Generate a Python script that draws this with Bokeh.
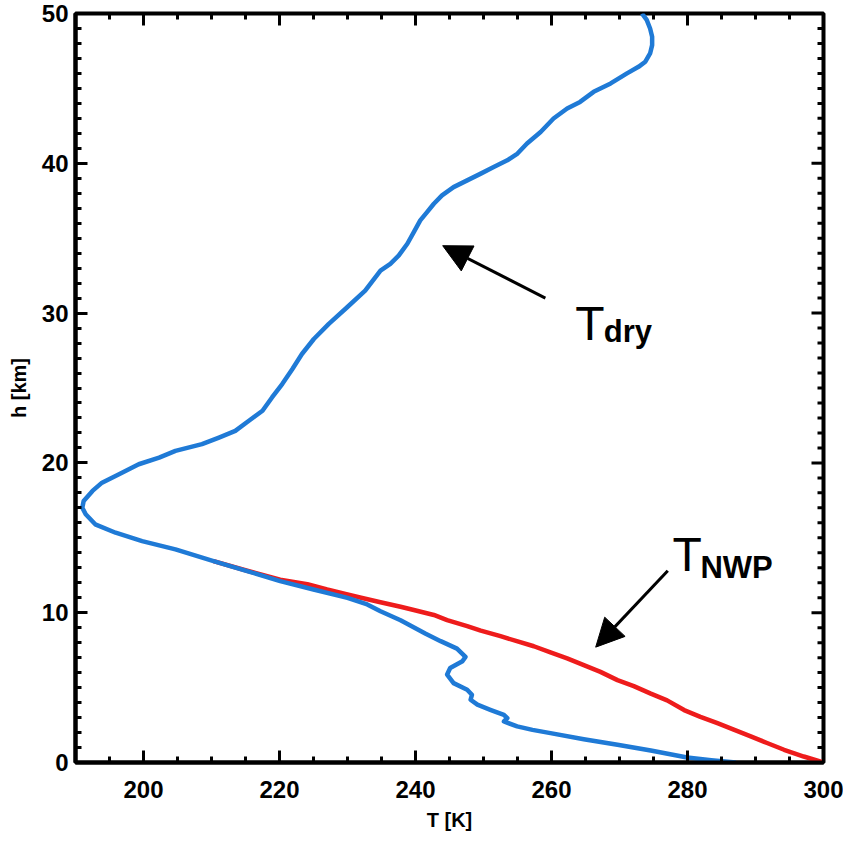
import math
from bokeh.plotting import figure
from bokeh.models import Range1d, FixedTicker, Arrow, NormalHead, ColumnDataSource
from bokeh.core.properties import value
from bokeh.embed import file_html
from bokeh.resources import INLINE

# ---- data ----
t_dry = [287.1, 283.5, 279.95, 274.6, 269.7, 264.75, 259.85, 257.2, 254.95, 253.0, 253.5,
         253.0, 251.0, 249.1, 248.1, 248.3, 247.6, 245.6, 244.65, 245.1, 246.9, 247.35,
         246.1, 243.7, 241.5, 237.8, 234.85, 232.9, 230.0, 225.0, 220.1, 215.25, 210.3,
         204.7, 199.8, 195.9, 192.9, 191.5, 191.0, 191.2, 192.5, 193.9, 196.4, 199.3,
         202.3, 204.7, 208.6, 211.1, 213.5, 215.5, 217.5, 218.9, 220.4, 221.9, 223.3,
         225.05, 227.25, 229.95, 232.6, 234.85, 236.3, 237.55, 238.8, 239.75, 240.7,
         241.7, 242.7, 243.9, 245.6, 247.6, 249.6, 251.5, 253.5, 255.0, 256.4, 258.4,
         260.3, 262.3, 264.2, 266.2, 268.7, 271.1, 272.8, 273.8, 274.5, 274.8, 274.8,
         274.5, 274.0, 273.3]
h_dry = [0.00, 0.15, 0.33, 0.80, 1.18, 1.55, 1.96, 2.18, 2.41, 2.74, 2.96,
         3.18, 3.52, 3.86, 4.19, 4.52, 4.86, 5.30, 5.87, 6.31, 6.76, 7.05,
         7.60, 8.10, 8.60, 9.50, 10.10, 10.55, 10.99, 11.55, 12.11, 12.78, 13.44,
         14.23, 14.78, 15.34, 15.90, 16.57, 17.01, 17.46, 18.13, 18.68, 19.24, 19.91,
         20.35, 20.80, 21.25, 21.69, 22.14, 22.81, 23.48, 24.37, 25.26, 26.27, 27.27,
         28.27, 29.28, 30.39, 31.50, 32.84, 33.29, 33.85, 34.63, 35.40, 36.19,
         36.74, 37.30, 37.86, 38.41, 38.86, 39.31, 39.75, 40.20, 40.65, 41.32, 42.09,
         42.99, 43.66, 44.10, 44.77, 45.33, 46.00, 46.44, 46.78, 47.33, 47.89, 48.45,
         49.00, 49.57, 50.00]

t_nwp = [300.0, 297.1, 294.2, 291.7, 289.3, 286.8, 284.4, 281.9, 279.5, 277.0, 274.6,
         272.1, 269.7, 267.2, 264.75, 262.3, 259.85, 257.4, 254.9, 252.5, 249.6, 247.6,
         244.65, 242.7, 239.75, 237.8, 234.85, 232.0, 230.0, 227.0, 224.1, 220.1, 215.25,
         210.3]
h_nwp = [0.00, 0.40, 0.85, 1.30, 1.74, 2.20, 2.63, 3.05, 3.50, 4.15, 4.60,
         5.10, 5.50, 6.05, 6.50, 6.95, 7.35, 7.76, 8.10, 8.43, 8.80, 9.10,
         9.50, 9.85, 10.18, 10.40, 10.70, 11.00, 11.22, 11.55, 11.90, 12.20, 12.80,
         13.44]

x_major = [200, 220, 240, 260, 280, 300]
x_minor = list(range(190, 301, 5))
y_major = [0, 10, 20, 30, 40, 50]
y_minor = list(range(0, 51, 1))
X0, X1, Y0, Y1 = 190, 300, 0, 50

FONT = "Liberation Sans"

p = figure(width=843, height=841, output_backend="svg", toolbar_location=None,
           x_range=Range1d(X0, X1), y_range=Range1d(Y0, Y1),
           min_border_left=75, min_border_right=20, min_border_top=13,
           min_border_bottom=79, x_axis_label="T [K]", y_axis_label="h [km]")
p.grid.visible = False
p.outline_line_color = "black"
p.outline_line_width = 4
p.background_fill_color = "white"
p.border_fill_color = "white"

for ax, ticks, minor in ((p.xaxis[0], x_major, x_minor), (p.yaxis[0], y_major, y_minor)):
    ax.ticker = FixedTicker(ticks=ticks, minor_ticks=minor)
    ax.axis_line_width = 4
    ax.axis_line_color = "black"
    ax.major_tick_in = 12
    ax.major_tick_out = 0
    ax.minor_tick_in = 6
    ax.minor_tick_out = 0
    ax.major_tick_line_width = 3
    ax.minor_tick_line_width = 3
    ax.major_tick_line_color = "black"
    ax.minor_tick_line_color = "black"
    ax.major_label_text_font = FONT
    ax.major_label_text_font_style = "bold"
    ax.major_label_text_font_size = "24px"
    ax.major_label_text_color = "black"
    ax.axis_label_text_font = FONT
    ax.axis_label_text_font_style = "bold"
    ax.axis_label_text_font_size = "20px"
    ax.axis_label_text_color = "black"
p.xaxis[0].major_label_standoff = 18
p.xaxis[0].axis_label_standoff = 8
p.yaxis[0].major_label_standoff = 7
p.yaxis[0].axis_label_standoff = 9

# mirrored inward ticks on the top and right edges
x_minor_only = [v for v in x_minor if v not in x_major]
y_minor_only = [v for v in y_minor if v not in y_major]
p.ray(x=x_major, y=[Y1] * len(x_major), length=12, length_units="screen",
      angle=-math.pi / 2, line_color="black", line_width=3)
p.ray(x=x_minor_only, y=[Y1] * len(x_minor_only), length=6, length_units="screen",
      angle=-math.pi / 2, line_color="black", line_width=3)
p.ray(x=[X1] * len(y_major), y=y_major, length=12, length_units="screen",
      angle=math.pi, line_color="black", line_width=3)
p.ray(x=[X1] * len(y_minor_only), y=y_minor_only, length=6, length_units="screen",
      angle=math.pi, line_color="black", line_width=3)

p.line(t_nwp, h_nwp, line_color="#ee1c1c", line_width=4.5, line_join="round")
p.line(t_dry, h_dry, line_color="#1f7ad6", line_width=4.5, line_join="round")

# annotations
p.add_layout(Arrow(end=NormalHead(size=28, fill_color="black", line_color="black"),
                   x_start=259.1, y_start=31.0, x_end=244.0, y_end=34.5,
                   line_width=3, line_color="black"))
p.add_layout(Arrow(end=NormalHead(size=28, fill_color="black", line_color="black"),
                   x_start=277.1, y_start=12.8, x_end=266.5, y_end=7.7,
                   line_width=3, line_color="black"))

big = ColumnDataSource(dict(x=[263.5, 277.8], y=[29.3, 13.9], t=["T", "T"]))
sub = ColumnDataSource(dict(x=[267.7, 281.9], y=[28.8, 13.0], t=["dry", "NWP"]))
p.text(x="x", y="y", text="t", source=big, text_font=value(FONT),
       text_font_size="48px", text_baseline="alphabetic", text_align="left",
       text_color="black")
p.text(x="x", y="y", text="t", source=sub, text_font=value(FONT),
       text_font_size="31px", text_font_style="bold", text_baseline="alphabetic",
       text_align="left", text_color="black")

open("out.html", "w").write(file_html(p, INLINE))
